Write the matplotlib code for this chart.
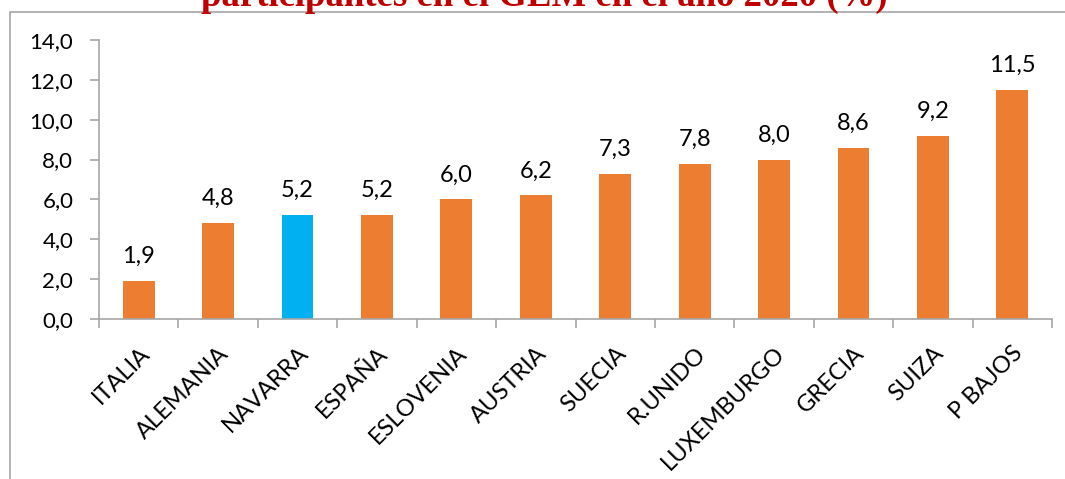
import matplotlib.pyplot as plt
from matplotlib.patches import Rectangle

# datos
paises = ["ITALIA", "ALEMANIA", "NAVARRA", "ESPAÑA", "ESLOVENIA", "AUSTRIA",
          "SUECIA", "R.UNIDO", "LUXEMBURGO", "GRECIA", "SUIZA", "P BAJOS"]
valores = [1.9, 4.8, 5.2, 5.2, 6.0, 6.2, 7.3, 7.8, 8.0, 8.6, 9.2, 11.5]
destacado = "NAVARRA"
yticks = [0, 2, 4, 6, 8, 10, 12, 14]

naranja = "#ED7D31"
azul = "#00B0F0"
gris = "#A6A6A6"
fuente = "Lato"

fig = plt.figure(figsize=(10.65, 4.79), dpi=100)
ax = fig.add_axes([99 / 1065, 1 - 319 / 479, (1052 - 99) / 1065, (319 - 40) / 479])

colores = [azul if p == destacado else naranja for p in paises]
x = list(range(len(paises)))
ax.bar(x, valores, width=0.4, color=colores, zorder=2)

for xi, v in zip(x, valores):
    ax.annotate(f"{v:.1f}".replace(".", ","), (xi, v), xytext=(0, 13),
                textcoords="offset points", ha="center", va="baseline",
                fontsize=17, family=fuente)

ax.set_xlim(-0.5, len(paises) - 0.5)
ax.set_ylim(0, 14)
ax.set_yticks(yticks)
ax.set_yticklabels([f"{t:.1f}".replace(".", ",") for t in yticks],
                   fontsize=16, family=fuente)

# ticks en los límites de categoría, etiquetas centradas
ax.set_xticks([i - 0.5 for i in range(len(paises) + 1)])
ax.set_xticklabels([])
ax.set_xticks(x, minor=True)
ax.set_xticklabels(paises, minor=True, rotation=45, ha="right",
                   rotation_mode="anchor", fontsize=17, family=fuente)
ax.tick_params(axis="x", which="minor", length=0, pad=17)
ax.tick_params(axis="x", which="major", length=6.5, color=gris, width=1.2)
ax.tick_params(axis="y", length=6.5, color=gris, width=1.2, pad=12)

for s in ["top", "right"]:
    ax.spines[s].set_visible(False)
for s in ["left", "bottom"]:
    ax.spines[s].set_color(gris)
    ax.spines[s].set_linewidth(1.2)

# marco del área del gráfico (recortado)
fig.add_artist(Rectangle((10 / 1065, -0.1), 1.2, 1 - 12 / 479 + 0.1,
                         transform=fig.transFigure, fill=False,
                         edgecolor=gris, linewidth=1.2))

# título (parcialmente fuera de la imagen)
fig.text(0.511, 1 - 6 / 479, "participantes en el GEM en el año 2020 (%)",
         ha="center", va="baseline", fontsize=26.5, fontweight="bold",
         color="#C00000", family="Liberation Serif")

fig.savefig("out.png", dpi=100)
